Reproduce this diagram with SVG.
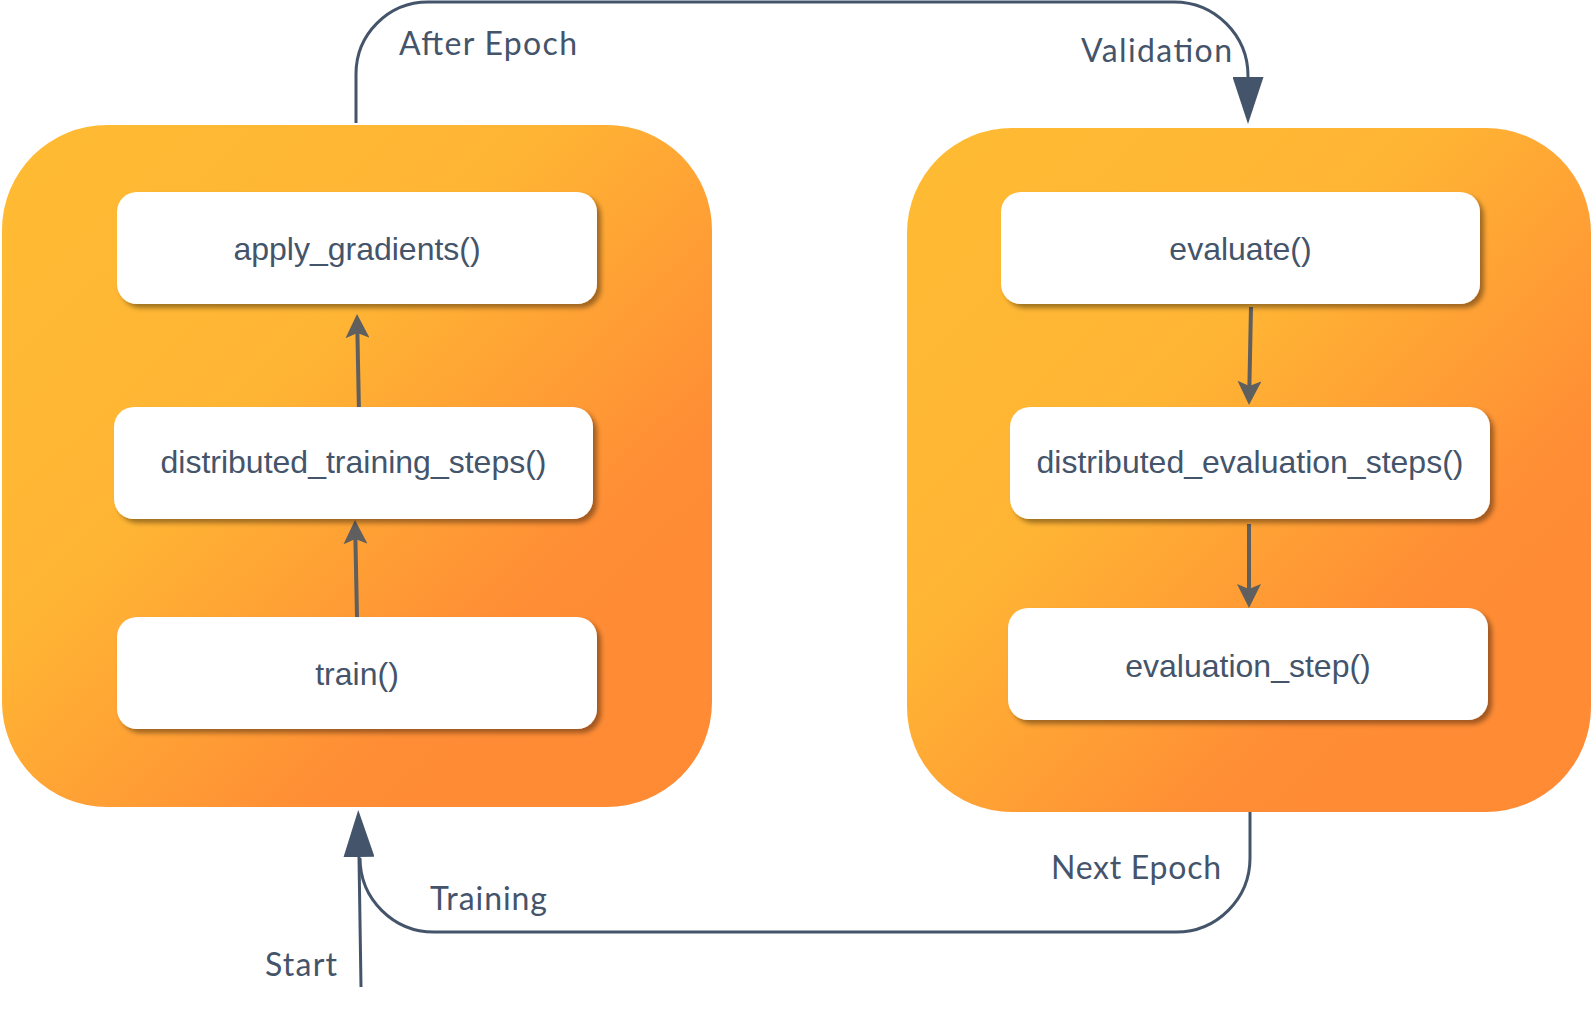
<svg xmlns="http://www.w3.org/2000/svg" width="1592" height="1010" viewBox="0 0 1592 1010">
<style>
.panel{stroke:none}
.node rect{fill:#ffffff;filter:url(#sh)}
.node text{font-family:"Liberation Sans",Arial,sans-serif;font-size:32px;fill:#44546A;text-anchor:middle}
.lbl{font-family:Lato,"Open Sans",sans-serif;font-size:32px;fill:#44546A}
.flow{fill:none;stroke:#44546A;stroke-width:3}
.inner{fill:none;stroke:#5F5F5F;stroke-width:4}
</style>
<defs>
<linearGradient id="og" x1="0" y1="0" x2="1" y2="1">
<stop offset="0" stop-color="#FFBB33"/>
<stop offset="0.38" stop-color="#FFB534"/>
<stop offset="0.72" stop-color="#FF8D35"/>
<stop offset="1" stop-color="#FF8A34"/>
</linearGradient>
<filter id="sh" x="-10%" y="-20%" width="125%" height="150%">
<feDropShadow dx="4" dy="4" stdDeviation="2.5" flood-color="#000000" flood-opacity="0.38"/>
</filter>
<marker id="big" viewBox="0 0 47 31" refX="0" refY="15.5" markerWidth="47" markerHeight="31" markerUnits="userSpaceOnUse" orient="auto">
<path d="M0,0 L47,15.5 L0,31 z" fill="#44546A"/>
</marker>
<marker id="small" viewBox="0 0 24 24" refX="5" refY="12" markerWidth="24" markerHeight="24" markerUnits="userSpaceOnUse" orient="auto">
<path d="M0,0 L24,12 L0,24 L5,12 z" fill="#5F5F5F"/>
</marker>
</defs>
<g id="training-panel">
<rect class="panel" x="2" y="125" width="710" height="682" rx="105" ry="105" fill="url(#og)"/>
</g>
<g id="validation-panel">
<rect class="panel" x="907" y="128" width="684" height="684" rx="105" ry="105" fill="url(#og)"/>
</g>
<g id="connectors">
<path class="flow" d="M356,123 V74 A72,72 0 0 1 428,2 H1174 A74,74 0 0 1 1248,76 V77" marker-end="url(#big)"/>
<path class="flow" d="M1250,812 V858 A74,74 0 0 1 1176,932 H434 A74,74 0 0 1 360,858"/>
<path class="flow" d="M361,987 L359,857" marker-end="url(#big)"/>
<path class="inner" d="M357,617 L355.4,539" marker-end="url(#small)"/>
<path class="inner" d="M359,412 L357.4,333" marker-end="url(#small)"/>
<path class="inner" d="M1251,307 L1249.4,386" marker-end="url(#small)"/>
<path class="inner" d="M1249,524 L1249,589" marker-end="url(#small)"/>
</g>
<g id="apply_gradients" class="node">
<rect x="117" y="192" width="480" height="112" rx="20" ry="20"/>
<text x="357" y="260">apply_gradients()</text>
</g>
<g id="distributed_training_steps" class="node">
<rect x="114" y="407" width="479" height="112" rx="20" ry="20"/>
<text x="353.5" y="473">distributed_training_steps()</text>
</g>
<g id="train" class="node">
<rect x="117" y="617" width="480" height="112" rx="20" ry="20"/>
<text x="357" y="685">train()</text>
</g>
<g id="evaluate" class="node">
<rect x="1001" y="192" width="479" height="112" rx="20" ry="20"/>
<text x="1240.5" y="260">evaluate()</text>
</g>
<g id="distributed_evaluation_steps" class="node">
<rect x="1010" y="407" width="480" height="112" rx="20" ry="20"/>
<text x="1250" y="473">distributed_evaluation_steps()</text>
</g>
<g id="evaluation_step" class="node">
<rect x="1008" y="608" width="480" height="112" rx="20" ry="20"/>
<text x="1248" y="677">evaluation_step()</text>
</g>
<g id="labels">
<text class="lbl" x="399" y="55" textLength="178">After Epoch</text>
<text class="lbl" x="1081" y="62" textLength="151">Validation</text>
<text class="lbl" x="430" y="910" textLength="117">Training</text>
<text class="lbl" x="265" y="976" textLength="72">Start</text>
<text class="lbl" x="1051" y="879" textLength="170">Next Epoch</text>
</g>
</svg>
